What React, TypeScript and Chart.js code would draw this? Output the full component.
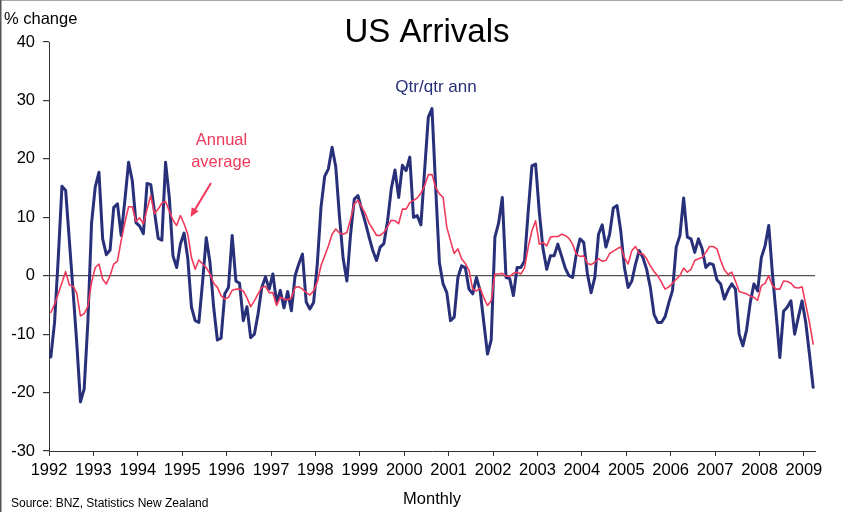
import { useEffect, useRef } from 'react';
import { Chart, registerables } from 'chart.js';

Chart.register(...registerables);

const yearLabels = ['1992','1993','1994','1995','1996','1997','1998','1999','2000','2001','2002','2003','2004','2005','2006','2007','2008','2009'];

// Qtr/qtr annualised % change, monthly Jan 1992 - Mar 2009
const qtrAnn = [
  -13.9, -8, 3, 15.3, 14.6, 6, -2.6, -11.5, -21.6, -19.4, -8, 9,
  15.2, 17.7, 6.3, 3.6, 4.4, 11.7, 12.3, 6.9, 12.9, 19.4, 16.3, 9.1,
  8.5, 7.2, 15.8, 15.6, 11, 6.4, 6.1, 19.4, 13.5, 3.4, 1.4, 5.4,
  7.3, 3, -5.4, -7.7, -8, -1.1, 6.5, 2.3, -5.4, -11, -10.7, -3.1,
  -2, 6.9, -0.9, -1.3, -7.7, -5.3, -10.6, -10, -6.5, -2, -0.2, -2.3,
  0.3, -4.6, -2.5, -5.5, -2.7, -6, 0, 2, 3.7, -4.5, -5.7, -4.6,
  2, 11.7, 17, 18.3, 22, 18.6, 10.1, 2.9, -0.9, 7.1, 13.1, 13.7,
  11.3, 9.1, 6.6, 4.3, 2.6, 4.9, 5.5, 9.4, 14.9, 18.1, 13.4, 18.9,
  18, 20.3, 10, 10.3, 8.7, 18, 27.1, 28.6, 15, 2.2, -1.4, -2.9,
  -7.7, -7.1, -0.3, 1.7, 1.4, -2.3, -3.1, -0.3, -2.5, -8, -13.4, -11,
  6.6, 9, 13.4, -0.3, -0.5, -3.4, 1.4, 1.4, 2.5, 11, 18.8, 19.1,
  10.9, 4.6, 1.1, 3.4, 3.4, 5.4, 3.4, 1.3, 0, -0.3, 3.7, 6.3,
  5.7, 0.3, -2.9, -0.3, 7.1, 8.7, 4.9, 7.1, 11.6, 12, 7.7, 1.4,
  -2, -0.9, 2, 4.3, 3.1, 1.1, -2, -6.6, -8, -8, -7, -4.6,
  -2.5, 4.9, 6.9, 13.3, 6.6, 6.3, 4, 6.3, 4.6, 1.4, 2.1, 1.9,
  -0.7, -1.4, -4, -2.5, -1.4, -2.3, -10, -12, -9.3, -4.6, -1.4, -2.6,
  3.1, 5.1, 8.6, 0.3, -6.6, -14, -6.1, -5.4, -4.3, -10, -7.1, -4.3,
  -8, -13.4, -19.1
];

// Annual average % change, monthly Jan 1992 - Mar 2009
const annualAvg = [
  -6.3, -4.9, -3.1, -1.2, 0.7, -1.6, -1.8, -3, -6.9, -6.5, -5.3, -1.1,
  1.4, 2, -0.6, -1.4, 0, 2, 2.5, 6, 9.1, 11.8, 11.8, 9.3,
  9.9, 8.9, 11.4, 13.7, 10.6, 11.4, 12.4, 12.7, 11.1, 9.5, 8.6, 10.3,
  8.9, 7.1, 3.1, 1.1, 2.7, 2, 1.4, 0.3, -1.3, -2, -3.4, -4,
  -3.7, -2.5, -2.3, -2.3, -2.6, -3.8, -5.3, -4.3, -3.1, -2, -1.8, -2.9,
  -2.9, -5.1, -3.7, -4, -4.1, -3.8, -2, -1.9, -2.3, -2.9, -3.3, -2.6,
  -1.1, 1.7, 3.4, 5.1, 7.1, 8, 7.3, 7.1, 7.4, 9.7, 12.3, 12.9,
  11.8, 10.6, 9, 8, 6.9, 6.9, 7.4, 8.4, 9.5, 9.4, 8.9, 11.4,
  11.4, 12.5, 12.9, 13.3, 14.1, 15.4, 17.3, 17.3, 15.1, 14, 13.4, 8.3,
  6, 3.8, 4.6, 2.9, 2.1, 0.9, -2.3, -2.6, -2.1, -3.8, -5.1, -4.3,
  0.3, 0.3, 0.4, -0.1, -0.1, 0.4, 0.6, 0.3, 1.3, 4.9, 7.7, 9.4,
  5.4, 5.7, 5.1, 6.6, 6.7, 6.7, 7.1, 6.9, 6.4, 5.4, 3.7, 3.3,
  3.4, 2.1, 1.9, 2.3, 2.9, 2.5, 2.6, 3.8, 4.2, 4.6, 4.9, 3.1,
  2, 4.3, 5, 3.8, 3.7, 2.9, 1.7, 0.7, 0, -1.1, -2.3, -1.9,
  -1.3, -0.6, 0, 1.3, 0.6, 1.1, 2.6, 2.9, 3.1, 4, 5, 5,
  4.6, 2.6, 1, 0.2, 0.6, -0.9, -2.7, -2.9, -3.1, -3.5, -3.7, -4.2,
  -1.7, -1.3, 0, -1.7, -2.3, -2.3, -0.9, -1, -1.3, -2, -2.1, -1.9,
  -4.9, -8, -11.7
];

const NAVY = '#28307A';
const RED = '#F03A5C';
const FONT = "'Liberation Sans', Arial, sans-serif";

const overlay = {
  id: 'overlay',
  afterDraw(chart: any) {
    const ctx = chart.ctx as CanvasRenderingContext2D;
    ctx.save();
    // frame
    ctx.fillStyle = '#a8a8a8';
    ctx.fillRect(0, 0, chart.width, 1);
    ctx.fillStyle = '#555555';
    ctx.fillRect(0, 0, 1.5, chart.height);

    ctx.fillStyle = '#000000';
    ctx.textBaseline = 'alphabetic';
    ctx.textAlign = 'center';
    ctx.font = `33px ${FONT}`;
    ctx.fillText('US Arrivals', 427, 42);

    ctx.textAlign = 'left';
    ctx.font = `16.5px ${FONT}`;
    ctx.fillText('% change', 4, 24);

    ctx.textAlign = 'center';
    ctx.font = `16.5px ${FONT}`;
    ctx.fillText('Monthly', 432, 504);

    ctx.textAlign = 'left';
    ctx.font = `12px ${FONT}`;
    ctx.fillText('Source: BNZ, Statistics New Zealand', 11, 507);

    ctx.textAlign = 'center';
    ctx.fillStyle = NAVY;
    ctx.font = `17px ${FONT}`;
    ctx.fillText('Qtr/qtr ann', 436, 92);

    ctx.fillStyle = RED;
    ctx.font = `16.5px ${FONT}`;
    ctx.fillText('Annual', 221.5, 145);
    ctx.fillText('average', 221, 167);

    // arrow
    const x1 = 211, y1 = 183, x2 = 190.5, y2 = 217;
    const ang = Math.atan2(y2 - y1, x2 - x1);
    ctx.strokeStyle = RED;
    ctx.lineWidth = 2;
    ctx.beginPath();
    ctx.moveTo(x1, y1);
    ctx.lineTo(x2 - 6 * Math.cos(ang), y2 - 6 * Math.sin(ang));
    ctx.stroke();
    ctx.beginPath();
    ctx.moveTo(x2, y2);
    ctx.lineTo(x2 - 9 * Math.cos(ang) + 4 * Math.sin(ang), y2 - 9 * Math.sin(ang) - 4 * Math.cos(ang));
    ctx.lineTo(x2 - 9 * Math.cos(ang) - 4 * Math.sin(ang), y2 - 9 * Math.sin(ang) + 4 * Math.cos(ang));
    ctx.closePath();
    ctx.fillStyle = RED;
    ctx.fill();
    ctx.restore();
  },
};

export default function App() {
  const ref = useRef<HTMLCanvasElement | null>(null);

  useEffect(() => {
    if (!ref.current) return;
    const chart = new Chart(ref.current, {
      type: 'line',
      data: {
        datasets: [
          {
            label: 'Annual average',
            data: annualAvg.map((v, i) => ({ x: i, y: v })),
            borderColor: RED,
            borderWidth: 1.6,
            borderJoinStyle: 'round',
            borderCapStyle: 'round',
            pointRadius: 0,
            tension: 0,
            fill: false,
          },
          {
            label: 'Qtr/qtr ann',
            data: qtrAnn.map((v, i) => ({ x: i, y: v })),
            borderColor: NAVY,
            borderWidth: 3,
            borderJoinStyle: 'round',
            borderCapStyle: 'round',
            pointRadius: 0,
            tension: 0,
            fill: false,
          },
        ],
      },
      options: {
        animation: false,
        responsive: false,
        devicePixelRatio: 1,
        layout: { padding: { top: 42, right: 28, left: 0, bottom: 0 } },
        plugins: {
          legend: { display: false },
          tooltip: { enabled: false },
          title: { display: false },
        },
        scales: {
          x: {
            type: 'linear',
            min: -0.5,
            max: 206.5,
            afterBuildTicks: (scale: any) => {
              scale.ticks = yearLabels.map((_, k) => ({ value: 12 * k - 0.5 }));
            },
            afterFit: (scale: any) => {
              scale.height = 61;
            },
            ticks: {
              autoSkip: false,
              maxRotation: 0,
              padding: 5,
              color: '#000000',
              font: { family: FONT, size: 16.5 },
              callback: (_v: any, index: number) => yearLabels[index],
            },
            grid: {
              drawOnChartArea: false,
              drawTicks: true,
              tickLength: 5,
              tickColor: '#333333',
            },
            border: { display: true, color: '#333333', width: 1 },
          },
          y: {
            type: 'linear',
            min: -30,
            max: 40,
            afterFit: (scale: any) => {
              scale.width = 49;
            },
            ticks: {
              stepSize: 10,
              padding: 8,
              color: '#000000',
              font: { family: FONT, size: 16.5 },
            },
            grid: {
              color: (c: any) => (c.tick && c.tick.value === 0 ? '#555555' : 'rgba(0,0,0,0)'),
              lineWidth: 1.2,
              drawTicks: true,
              tickLength: 6,
              tickColor: '#333333',
            },
            border: { display: true, color: '#333333', width: 1 },
          },
        },
      },
      plugins: [overlay],
    });
    return () => chart.destroy();
  }, []);

  return (
    <div style={{ position: 'absolute', left: 0, top: 0, width: 843, height: 512, background: '#ffffff' }}>
      <canvas ref={ref} width={843} height={512} style={{ display: 'block' }} />
    </div>
  );
}
